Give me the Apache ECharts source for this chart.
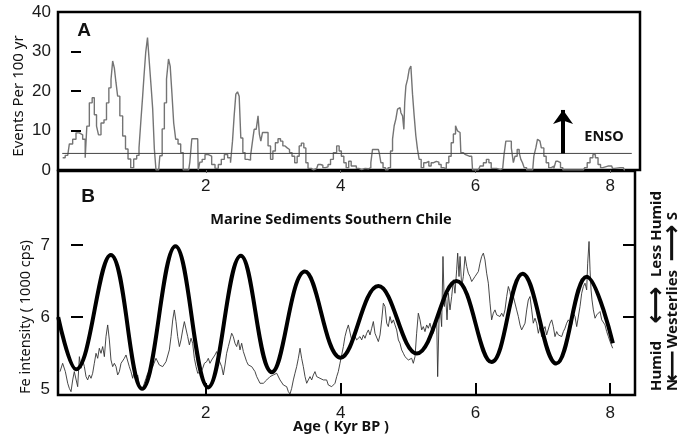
<!DOCTYPE html>
<html>
<head>
<meta charset="utf-8">
<title>ENSO events and Fe intensity, southern Chile</title>
<script src="https://cdn.jsdelivr.net/npm/echarts@6/dist/echarts.min.js"></script>
<style>
  html, body { margin: 0; padding: 0; background: #fff; }
  #main { width: 678px; height: 441px; }
</style>
</head>
<body>
<div id="main"></div>
<script>
// tick labels
var ageTicks = [2, 4, 6, 8];
var feLabelTicks = [5, 6, 7];
var feMarkTicks = [6, 7];

// panel A: ENSO events per 100 yr (age kyr BP, events)
var ensoEvents = [
  [-0.124,3.1],[-0.049,3.7],[0.0,6.6],[0.049,7.8],[0.099,9.4],[0.148,8.9],[0.198,7.8],[0.223,3.1],
  [0.247,11.1],[0.297,17.0],[0.331,18.3],[0.361,14.0],[0.396,11.1],[0.42,8.9],[0.47,11.9],[0.509,12.7],
  [0.544,17.0],[0.579,20.8],[0.608,22.9],[0.628,27.6],[0.658,25.8],[0.677,22.1],[0.707,18.7],[0.742,13.7],
  [0.791,8.6],[0.826,5.3],[0.866,2.8],[0.905,0.6],[0.955,2.8],[0.994,3.7],[1.024,5.6],[1.053,12.9],
  [1.073,18.7],[1.093,23.8],[1.123,29.7],[1.147,33.5],[1.177,27.2],[1.202,20.9],[1.222,15.4],[1.251,5.3],
  [1.271,0],[1.301,0],[1.335,3.6],[1.37,10.4],[1.4,17.0],[1.434,23.0],[1.459,28.1],[1.484,26.3],
  [1.509,19.6],[1.538,11.9],[1.568,7.8],[1.608,6.6],[1.647,4.4],[1.682,0],[1.746,0],[1.78,2.0],
  [1.805,7.9],[1.88,7.9],[1.894,0],[1.929,2.0],
  [1.963,2.7],[2.013,3.9],[2.062,3.5],[2.112,1.4],[2.161,0.4],[2.21,1.4],[2.25,2.7],[2.3,3.9],
  [2.349,3.1],[2.384,1.85],[2.408,7.3],[2.433,13.7],[2.458,19.2],[2.483,19.8],[2.507,18.7],[2.532,8.1],
  [2.567,4.4],[2.597,2.7],[2.646,2.5],[2.681,3.5],[2.705,7.3],[2.73,10.3],[2.765,9.9],[2.785,13.7],
  [2.804,9.1],[2.829,7.3],[2.854,9.5],[2.904,9.5],[2.943,6.1],[2.978,2.7],[3.012,4.8],[3.052,6.9],
  [3.091,7.9],[3.126,7.3],[3.16,6.1],[3.19,5.6],[3.225,5.2],[3.259,4.4],[3.299,3.5],[3.338,1.85],
  [3.373,3.5],[3.398,6.1],[3.437,6.8],[3.472,5.6],[3.497,1.85],[3.536,0.4],[3.596,0],[3.645,0.4],
  [3.685,1.4],[3.719,1.2],[3.754,0.6],[3.794,0.8],[3.833,1.4],[3.868,2.7],[3.917,4.4],[3.966,6.1],
  [3.991,4.8],[4.031,3.5],[4.065,1.85],[4.1,0.6],[4.14,2.2],
  [4.174,1.0],[4.214,1.0],[4.253,0.4],[4.288,0.1],[4.338,0.4],[4.387,0.3],[4.436,0.6],[4.461,1.85],
  [4.486,5.2],[4.51,5.2],[4.56,5.2],[4.585,4.4],[4.61,1.85],[4.649,0.6],[4.684,0],[4.723,0.6],
  [4.758,4.8],[4.783,7.8],[4.807,11.2],[4.832,12.9],[4.857,15.4],[4.882,15.8],[4.907,14.5],[4.931,13.7],
  [4.946,10.3],[4.956,17.1],[4.981,21.3],[5.006,23.0],[5.03,25.5],[5.055,26.3],[5.079,19.2],[5.104,13.7],
  [5.129,8.6],[5.153,5.2],[5.178,2.7],[5.213,0.6],[5.252,1.85],[5.292,2.2],[5.326,1.0],[5.361,1.85],
  [5.401,2.2],[5.44,2.0],[5.475,1.4],[5.509,0.6],[5.549,0.3],[5.588,1.85],[5.623,3.5],[5.658,6.9],
  [5.688,9.1],[5.722,11.2],[5.747,9.9],[5.772,9.5],[5.796,4.4],[5.836,3.9],[5.871,3.5],[5.945,3.5],
  [5.97,0],[6.044,0],[6.094,1.0],[6.143,1.85],[6.183,2.7],[6.217,1.85],[6.252,0.4],[6.291,0.4],
  [6.34,0.1],[6.405,0.4],[6.439,3.5],[6.464,7.3],[6.513,7.3],[6.553,5.6],[6.573,1.85],[6.602,3.5],
  [6.637,5.2],[6.662,4.4],[6.686,2.7],[6.711,1.85],[6.736,0.6],[6.785,0],[6.85,0],[6.884,3.5],
  [6.909,5.6],[6.934,7.8],[6.958,7.3],[6.998,5.6],[7.033,3.5],[7.067,1.85],[7.107,0.6],[7.147,1.0],
  [7.181,0.4],[7.206,2.2],[7.245,1.85],[7.28,0.6],[7.315,0],[7.404,0],[7.602,0],[7.641,0.6],
  [7.676,1.85],[7.726,3.1],[7.76,3.9],[7.8,3.1],[7.839,1.4],[7.874,0.6],[7.909,1.0],[8.022,1.0],
  [8.047,0.4],[8.087,0.4],[8.097,0.6],[8.196,0.6],[8.22,0]
];
var ensoThreshold = 4.2;
var thresholdSpan = [-0.13, 8.32];
var ensoArrow = { age: 7.3, from: 4.2, to: 15.2 };

// panel B: Fe intensity, thin record (age kyr BP, 1000 cps)
var feIntensity = [
  [-0.163,5.248],[-0.124,5.363],[-0.084,5.248],[-0.049,5.087],[-0.025,5.017],[0.0,4.971],[0.025,5.133],[0.049,5.248],
  [0.074,5.225],[0.099,5.04],[0.124,5.455],[0.148,5.294],[0.173,5.409],[0.198,5.317],[0.223,5.179],[0.247,5.133],
  [0.272,5.202],[0.297,5.156],[0.321,5.225],[0.346,5.363],[0.371,5.501],[0.396,5.432],[0.42,5.571],[0.445,5.501],
  [0.47,5.594],[0.495,5.455],[0.519,5.732],[0.544,5.893],[0.569,5.686],[0.593,5.409],[0.618,5.317],[0.643,5.363],
  [0.668,5.317],[0.692,5.202],[0.717,5.248],[0.742,5.363],[0.766,5.386],[0.791,5.432],[0.816,5.478],[0.841,5.478],
  [0.865,5.317],[0.89,5.248],[0.915,5.156],[0.94,5.271],[0.964,5.156],[0.989,5.202],[1.014,5.063],[1.039,5.087],
  [1.063,5.017],[1.088,5.04],[1.113,5.156],[1.138,5.225],[1.162,5.248],[1.212,5.317],[1.261,5.432],[1.31,5.34],
  [1.36,5.317],[1.41,5.386],[1.459,5.548],[1.484,5.732],[1.509,5.962],[1.533,6.1],[1.558,5.939],[1.583,5.732],
  [1.608,5.594],[1.632,5.686],[1.657,5.824],[1.682,5.939],[1.707,5.916],[1.731,5.732],[1.756,5.617],[1.781,5.709],
  [1.805,5.64],[1.83,5.432],[1.855,5.317],[1.88,5.225],[1.904,5.202],[1.929,5.248],[1.954,5.294],[1.979,5.363],
  [2.013,5.386],[2.037,5.432],[2.062,5.363],[2.087,5.409],[2.112,5.386],[2.136,5.478],[2.161,5.525],[2.186,5.432],
  [2.21,5.409],[2.235,5.317],[2.26,5.202],[2.285,5.34],[2.309,5.501],[2.334,5.594],[2.359,5.686],[2.384,5.778],
  [2.408,5.732],[2.433,5.64],[2.458,5.594],[2.483,5.686],[2.507,5.548],[2.532,5.64],[2.557,5.525],[2.582,5.501],
  [2.606,5.386],[2.631,5.34],[2.656,5.363],[2.681,5.317],[2.705,5.34],[2.73,5.248],[2.755,5.179],[2.78,5.133],
  [2.804,5.087],[2.829,5.11],[2.854,5.087],[2.904,5.133],[2.953,5.179],[3.002,5.202],[3.052,5.225],[3.101,5.133],
  [3.151,5.063],[3.2,5.04],[3.225,4.971],[3.249,4.939],[3.274,5.017],[3.299,5.133],[3.323,5.225],[3.348,5.317],
  [3.373,5.432],[3.398,5.571],[3.422,5.432],[3.447,5.317],[3.472,5.179],[3.497,5.087],[3.521,5.133],[3.546,5.179],
  [3.571,5.133],[3.596,5.202],[3.62,5.248],[3.645,5.179],[3.67,5.202],[3.694,5.156],[3.719,5.179],[3.744,5.133],
  [3.769,5.11],[3.793,5.133],[3.818,5.063],[3.843,5.087],[3.868,5.04],[3.892,5.04],[3.917,5.087],[3.942,5.179],
  [3.966,5.248],[3.991,5.363],[4.016,5.478],[4.041,5.594],[4.065,5.732],[4.09,5.824],[4.115,5.893],[4.14,5.87],
  [4.164,5.686],[4.189,5.709],[4.214,5.732],[4.238,5.686],[4.263,5.709],[4.288,5.732],[4.313,5.686],[4.338,5.755],
  [4.362,5.709],[4.387,5.778],[4.412,5.824],[4.436,5.755],[4.461,5.847],[4.486,5.94],[4.51,5.778],[4.535,5.755],
  [4.56,5.663],[4.585,5.755],[4.61,5.963],[4.634,6.193],[4.659,6.147],[4.684,5.917],[4.708,5.87],[4.733,6.009],
  [4.758,5.917],[4.783,5.963],[4.807,5.893],[4.832,5.824],[4.857,5.686],[4.881,5.64],[4.906,5.548],[4.931,5.502],
  [4.955,5.455],[4.98,5.478],[5.005,5.409],[5.03,5.386],[5.054,5.432],[5.079,5.363],[5.104,5.455],[5.128,5.778],
  [5.153,6.055],[5.178,5.963],[5.203,5.824],[5.227,5.87],[5.252,5.801],[5.277,5.893],[5.301,5.847],[5.326,5.917],
  [5.351,5.824],[5.376,5.778],[5.4,5.87],[5.425,6.009],[5.44,5.179],[5.46,5.963],[5.48,6.101],[5.499,5.87],
  [5.519,6.839],[5.539,6.147],[5.559,6.285],[5.579,5.963],[5.599,6.331],[5.623,6.101],[5.648,6.285],[5.673,6.516],
  [5.697,6.331],[5.722,6.654],[5.737,6.885],[5.757,6.562],[5.772,6.839],[5.797,6.424],[5.821,6.562],[5.846,6.839],
  [5.871,6.7],[5.895,6.608],[5.92,6.562],[5.945,6.493],[5.97,6.516],[5.994,6.562],[6.019,6.585],[6.044,6.631],
  [6.068,6.746],[6.093,6.839],[6.118,6.885],[6.142,6.792],[6.167,6.608],[6.192,6.47],[6.217,6.193],[6.241,5.963],
  [6.266,6.055],[6.291,6.101],[6.315,6.032],[6.34,6.055],[6.365,6.009],[6.39,6.055],[6.414,6.009],[6.439,6.101],
  [6.464,6.285],[6.489,6.424],[6.513,6.354],[6.538,6.193],[6.563,6.285],[6.588,6.262],[6.612,6.101],[6.637,6.009],
  [6.662,5.893],[6.686,5.824],[6.711,5.801],[6.736,5.917],[6.761,6.101],[6.785,6.239],[6.81,6.285],[6.835,6.101],
  [6.859,5.917],[6.884,5.986],[6.909,5.917],[6.934,5.778],[6.958,5.87],[6.983,5.732],[7.008,5.824],[7.033,5.87],
  [7.057,5.755],[7.082,5.732],[7.107,5.917],[7.132,5.963],[7.156,5.87],[7.181,5.732],[7.206,5.801],[7.231,5.755],
  [7.255,5.778],[7.28,5.732],[7.305,5.801],[7.329,5.847],[7.354,5.917],[7.379,5.963],[7.404,5.94],[7.428,5.893],
  [7.453,6.055],[7.478,6.009],[7.503,5.87],[7.527,5.893],[7.552,6.147],[7.577,6.331],[7.602,6.424],[7.626,6.47],
  [7.651,6.377],[7.666,6.746],[7.686,7.046],[7.701,6.654],[7.716,6.377],[7.73,6.239],[7.75,6.101],[7.775,5.986],
  [7.8,6.032],[7.824,6.009],[7.849,6.078],[7.874,5.963],[7.899,5.94],[7.923,5.893],[7.948,5.801],[7.973,5.732],
  [7.998,5.663],[8.037,5.571]
];

// panel B: thick cycle curve, turning points
var feCycle = [
  [-0.19,6.0],[0.075,5.28],[0.59,6.86],[1.055,5.01],[1.55,6.98],[2.035,5.03],[2.52,6.85],[2.98,5.24],
  [3.47,6.63],[4.0,5.44],[4.56,6.43],[5.13,5.5],[5.72,6.5],[6.24,5.38],[6.70,6.6],[7.2,5.36],
  [7.65,6.56],[8.04,5.64]
];

var chart = echarts.init(document.getElementById('main'));

var tickFont = { fontSize: 17, color: '#1a1a1a', fontFamily: 'Liberation Sans, Arial, sans-serif' };
var noteFont = 'Noto Sans, Open Sans, sans-serif';

function label(text, x, y, size, weight, rot, family) {
  return {
    type: 'text', x: x, y: y, rotation: rot || 0, silent: true,
    style: {
      text: text, fill: '#111', fontSize: size, fontWeight: weight || 'normal',
      fontFamily: family || noteFont,
      align: 'center', verticalAlign: 'middle',
      textAlign: 'center', textVerticalAlign: 'middle'
    }
  };
}

var up = Math.PI / 2;
var arrowFont = 'DejaVu Sans, sans-serif';

var option = {
  animation: false,
  backgroundColor: '#fff',
  grid: [
    { left: 58, top: 12, width: 582, height: 158, show: true, borderColor: '#000', borderWidth: 2.5 },
    { left: 58, top: 171, width: 577, height: 224, show: true, borderColor: '#000', borderWidth: 2.5 }
  ],
  xAxis: [
    {
      gridIndex: 0, type: 'value', min: -0.193, max: 8.442,
      axisLine: { show: false }, splitLine: { show: false },
      axisTick: { show: true, customValues: ageTicks, length: 3, lineStyle: { color: '#555' } },
      axisLabel: Object.assign({ customValues: ageTicks, margin: 8 }, tickFont)
    },
    {
      gridIndex: 1, type: 'value', min: -0.193, max: 8.368,
      axisLine: { show: false }, splitLine: { show: false },
      axisTick: { show: true, inside: true, customValues: ageTicks, length: 12, lineStyle: { color: '#000', width: 2 } },
      axisLabel: Object.assign({ customValues: ageTicks, margin: 10 }, tickFont)
    }
  ],
  yAxis: [
    {
      gridIndex: 0, type: 'value', min: 0, max: 40, interval: 10,
      axisLine: { show: false }, splitLine: { show: false },
      axisTick: { show: true, inside: true, length: 10, lineStyle: { color: '#000', width: 2 } },
      axisLabel: Object.assign({ margin: 7 }, tickFont)
    },
    {
      gridIndex: 1, type: 'value', min: 4.925, max: 8.02,
      axisLine: { show: false }, splitLine: { show: false },
      axisTick: { show: true, inside: true, customValues: feMarkTicks, length: 12, lineStyle: { color: '#000', width: 2 } },
      axisLabel: Object.assign({ customValues: feLabelTicks, margin: 8 }, tickFont)
    },
    {
      gridIndex: 1, type: 'value', position: 'right', min: 4.925, max: 8.02,
      axisLine: { show: false }, splitLine: { show: false },
      axisTick: { show: true, inside: true, customValues: feMarkTicks, length: 12, lineStyle: { color: '#000', width: 2 } },
      axisLabel: { show: false }
    }
  ],
  series: [
    {
      name: 'ENSO events', type: 'line', xAxisIndex: 0, yAxisIndex: 0,
      step: 'middle', showSymbol: false, silent: true,
      lineStyle: { color: '#747474', width: 1.4 },
      data: ensoEvents
    },
    {
      name: 'threshold', type: 'line', xAxisIndex: 0, yAxisIndex: 0,
      showSymbol: false, silent: true,
      lineStyle: { color: '#444', width: 1 },
      data: [[thresholdSpan[0], ensoThreshold], [thresholdSpan[1], ensoThreshold]],
      markLine: {
        silent: true, symbol: ['none', 'arrow'], symbolSize: [15, 14],
        label: { show: false },
        lineStyle: { color: '#000', width: 4, type: 'solid' },
        data: [[{ coord: [ensoArrow.age, ensoArrow.from] }, { coord: [ensoArrow.age, ensoArrow.to] }]]
      }
    },
    {
      name: 'Fe intensity', type: 'line', xAxisIndex: 1, yAxisIndex: 1,
      showSymbol: false, silent: true,
      lineStyle: { color: '#333', width: 0.9 },
      data: feIntensity
    },
    {
      name: 'Fe cycle', type: 'line', xAxisIndex: 1, yAxisIndex: 1,
      showSymbol: false, silent: true, smooth: 0.4,
      lineStyle: { color: '#000', width: 4 },
      data: feCycle
    }
  ],
  graphic: [
    label('A', 84, 31, 19, 'bold', 0, 'Liberation Sans, Arial, sans-serif'),
    label('B', 88, 197, 19, 'bold', 0, 'Liberation Sans, Arial, sans-serif'),
    label('ENSO', 604, 137, 14.5, 'bold'),
    label('Marine Sediments Southern Chile', 331, 220, 14.5, 'bold'),
    label('Events Per 100 yr', 19, 96, 15, 'normal', up),
    label('Fe intensity ( 1000 cps)', 26, 317, 14.5, 'normal', up),
    label('Age ( Kyr BP )', 341, 427, 14.5, 'bold'),
    label('Humid', 657, 366, 15, 'bold', up),
    label('\u27F7', 657, 305, 26, 'bold', up, arrowFont),
    label('Less Humid', 657, 234, 15, 'bold', up),
    label('N', 673, 385, 15, 'bold', up),
    label('\u27F5', 673, 366, 22, 'bold', up, arrowFont),
    label('Westerlies', 673, 309, 15, 'bold', up),
    label('\u27F6', 673, 243, 26, 'bold', up, arrowFont),
    label('S', 673, 216, 15, 'bold', up)
  ]
};

chart.setOption(option);
</script>
</body>
</html>
